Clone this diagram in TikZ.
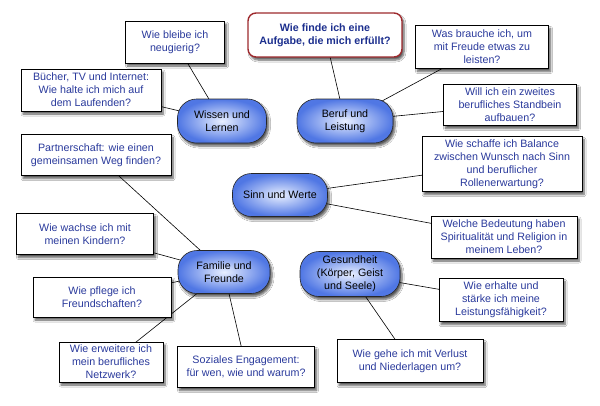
\documentclass[tikz,border=0pt]{standalone}
\usepackage{fontspec}
\setmainfont{Liberation Sans}
\usepackage{tikz}
\usetikzlibrary{shadows.blur}
\usetikzlibrary{backgrounds}
\definecolor{fragetext}{HTML}{2A3A9C}
\definecolor{zieltext}{HTML}{1C2F8E}
\definecolor{zielrand}{HTML}{9E2A2E}
\definecolor{themahell}{HTML}{E8EFFF}
\definecolor{themadunkel}{HTML}{5077E4}

\begin{document}
\begin{tikzpicture}[x=1pt, y=-1pt, font=\fontsize{10.7}{13}\selectfont,
		schatten/.style={blur shadow={shadow xshift=2pt, shadow yshift=-3pt, shadow blur steps=6, shadow blur radius=2pt, shadow opacity=65}},
		frage/.style={rectangle, draw, line width=0.6pt, fill=white, text=fragetext, align=center, inner sep=0pt, schatten},
		thema/.style={rectangle, rounded corners=19pt, draw=black!85, line width=0.6pt, inner color=themahell, outer color=themadunkel, align=center, inner sep=0pt, schatten},
		ziel/.style={rectangle, rounded corners=8pt, draw=zielrand, line width=1.4pt, fill=white, text=zieltext, font=\fontsize{10.7}{13}\selectfont\bfseries, align=center, inner sep=0pt, schatten},
		ast/.style={draw, line width=0.6pt}]
			\useasboundingbox (0, 0) rectangle (600, 405);
			\node at (325, 35) [ziel, minimum width=154, minimum height=44] (ziel1) {Wie finde ich eine\\Aufgabe, die mich erfüllt?};
			\node at (222, 121) [thema, minimum width=89, minimum height=44] (wissen1) {Wissen und\\Lernen};
			\node at (345, 121) [thema, minimum width=96, minimum height=44] (beruf1) {Beruf und\\Leistung};
			\node at (280, 195) [thema, minimum width=95, minimum height=43] (sinn1) {Sinn und Werte};
			\node at (224, 272) [thema, minimum width=92, minimum height=43] (familie1) {Familie und\\Freunde};
			\node at (350, 274) [thema, minimum width=100, minimum height=45] (gesund1) {Gesundheit\\(Körper, Geist\\und Seele)};
			\node at (175, 42) [frage, minimum width=99, minimum height=42] (neugier1) {Wie bleibe ich\\neugierig?};
			\node at (91, 90) [frage, minimum width=140, minimum height=42] (medien1) {Bücher, TV und Internet:\\Wie halte ich mich auf\\dem Laufenden?};
			\node at (482, 47) [frage, minimum width=133, minimum height=43] (freude1) {Was brauche ich, um\\mit Freude etwas zu\\leisten?};
			\node at (510, 105) [frage, minimum width=133, minimum height=41] (standbein1) {Will ich ein zweites\\berufliches Standbein\\aufbauen?};
			\node at (502, 164) [frage, minimum width=160, minimum height=55] (balance1) {Wie schaffe ich Balance\\zwischen Wunsch nach Sinn\\und beruflicher\\Rollenerwartung?};
			\node at (504, 237) [frage, minimum width=146, minimum height=42] (religion1) {Welche Bedeutung haben\\Spiritualität und Religion in\\meinem Leben?};
			\node at (96, 155) [frage, minimum width=150, minimum height=41] (partner1) {Partnerschaft: wie einen\\gemeinsamen Weg finden?};
			\node at (85, 234) [frage, minimum width=137, minimum height=41] (kinder1) {Wie wachse ich mit\\meinen Kindern?};
			\node at (102, 297) [frage, minimum width=138, minimum height=40] (freunde1) {Wie pflege ich\\Freundschaften?};
			\node at (111, 362) [frage, minimum width=104, minimum height=40] (netzwerk1) {Wie erweitere ich\\mein berufliches\\Netzwerk?};
			\node at (246, 367) [frage, minimum width=137, minimum height=41] (sozial1) {Soziales Engagement:\\für wen, wie und warum?};
			\node at (501, 300) [frage, minimum width=124, minimum height=43] (kraft1) {Wie erhalte und\\stärke ich meine\\Leistungsfähigkeit?};
			\node at (410, 361) [frage, minimum width=146, minimum height=43] (verlust1) {Wie gehe ich mit Verlust\\und Niederlagen um?};
			\begin{scope}[on background layer]
				\fill [white] (0, 0) rectangle (600, 405);
				\draw [ast] (wissen1.center) -- (neugier1.center);
				\draw [ast] (wissen1.center) -- (medien1.center);
				\draw [ast] (beruf1.center) -- (ziel1.center);
				\draw [ast] (beruf1.center) -- (freude1.center);
				\draw [ast] (beruf1.center) -- (standbein1.center);
				\draw [ast] (sinn1.center) -- (balance1.center);
				\draw [ast] (sinn1.center) -- (religion1.center);
				\draw [ast] (familie1.center) -- (partner1.center);
				\draw [ast] (familie1.center) -- (kinder1.center);
				\draw [ast] (familie1.center) -- (freunde1.center);
				\draw [ast] (familie1.center) -- (netzwerk1.center);
				\draw [ast] (familie1.center) -- (sozial1.center);
				\draw [ast] (gesund1.center) -- (kraft1.center);
				\draw [ast] (gesund1.center) -- (verlust1.center);
			\end{scope}
		\end{tikzpicture}
\end{document}
